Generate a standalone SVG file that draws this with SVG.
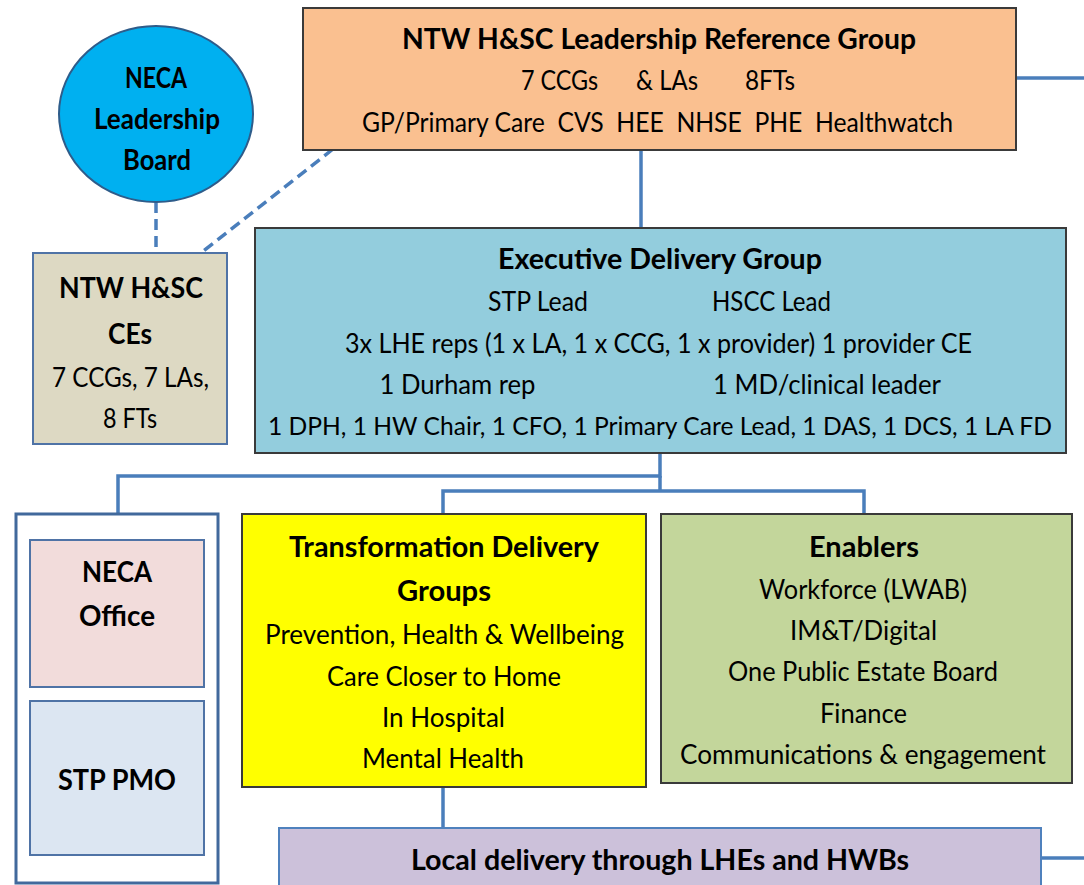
<svg xmlns="http://www.w3.org/2000/svg" width="1084" height="885" viewBox="0 0 1084 885">
<style>
text{font-family:Lato,"Liberation Sans",sans-serif;fill:#000;text-anchor:middle}
.b{font-weight:bold;font-size:29px}
.r{font-size:27px}
.s{font-size:25px}
.con{stroke:#4A7EBB;stroke-width:3.5;fill:none}
.dash{stroke:#4A7EBB;stroke-width:3.5;fill:none;stroke-dasharray:11 6}
.dk{stroke:#3A3A3A;stroke-width:2}
.bl{stroke:#4F73A6;stroke-width:2}
</style>
<rect width="1084" height="885" fill="#fff"/>
<g id="connectors">
<line class="con" x1="1016" y1="78" x2="1084" y2="78"/>
<line class="con" x1="641" y1="150" x2="641" y2="228"/>
<line class="dash" x1="156" y1="202" x2="156" y2="253"/>
<line class="dash" x1="333" y1="149" x2="201" y2="253"/>
<polyline class="con" points="660,453 660,476 118,476 118,514"/>
<polyline class="con" points="660,476 660,491"/>
<polyline class="con" points="443,514 443,491 864,491 864,514"/>
<line class="con" x1="443" y1="787" x2="443" y2="828"/>
<line class="con" x1="1041" y1="858" x2="1084" y2="858"/>
</g>
<g id="ref-group">
<rect class="dk" x="303" y="8" width="713" height="142" fill="#FAC090"/>
<text class="b" x="659" y="49" textLength="514" lengthAdjust="spacingAndGlyphs">NTW H&amp;SC Leadership Reference Group</text>
<text class="r" x="559.5" y="90" textLength="77" lengthAdjust="spacingAndGlyphs">7 CCGs</text>
<text class="r" x="667" y="90" textLength="62" lengthAdjust="spacingAndGlyphs">&amp; LAs</text>
<text class="r" x="770" y="90" textLength="50" lengthAdjust="spacingAndGlyphs">8FTs</text>
<text class="r" x="657.5" y="132" textLength="591" lengthAdjust="spacingAndGlyphs" xml:space="preserve">GP/Primary Care  CVS  HEE  NHSE  PHE  Healthwatch</text>
</g>
<g id="neca-board">
<ellipse cx="156" cy="114" rx="97" ry="88" fill="#00B0F0" stroke="#2E5C8A" stroke-width="2"/>
<text class="b" x="156" y="88" textLength="62" lengthAdjust="spacingAndGlyphs">NECA</text>
<text class="b" x="157" y="129" textLength="126" lengthAdjust="spacingAndGlyphs">Leadership</text>
<text class="b" x="157" y="170" textLength="68" lengthAdjust="spacingAndGlyphs">Board</text>
</g>
<g id="ce-box">
<rect class="bl" x="33" y="253" width="194" height="191" fill="#DDD9C3"/>
<text class="b" x="131" y="298" textLength="144" lengthAdjust="spacingAndGlyphs">NTW H&amp;SC</text>
<text class="b" x="130" y="344" textLength="44" lengthAdjust="spacingAndGlyphs">CEs</text>
<text class="r" x="130.5" y="387" textLength="157" lengthAdjust="spacingAndGlyphs">7 CCGs, 7 LAs,</text>
<text class="r" x="130" y="428" textLength="54" lengthAdjust="spacingAndGlyphs">8 FTs</text>
</g>
<g id="exec-group">
<rect class="dk" x="255" y="228" width="811" height="225" fill="#93CDDD"/>
<text class="b" x="660" y="269" textLength="324" lengthAdjust="spacingAndGlyphs">Executive Delivery Group</text>
<text class="r" x="538" y="311" textLength="100" lengthAdjust="spacingAndGlyphs">STP Lead</text>
<text class="r" x="771.5" y="311" textLength="119" lengthAdjust="spacingAndGlyphs">HSCC Lead</text>
<text class="r" x="658.5" y="353" textLength="627" lengthAdjust="spacingAndGlyphs">3x LHE reps (1 x LA, 1 x CCG, 1 x provider) 1 provider CE</text>
<text class="r" x="457.5" y="394" textLength="156" lengthAdjust="spacingAndGlyphs">1 Durham rep</text>
<text class="r" x="827" y="394" textLength="228" lengthAdjust="spacingAndGlyphs">1 MD/clinical leader</text>
<text class="s" x="660" y="435" textLength="784" lengthAdjust="spacingAndGlyphs">1 DPH, 1 HW Chair, 1 CFO, 1 Primary Care Lead, 1 DAS, 1 DCS, 1 LA FD</text>
</g>
<g id="support-container">
<rect x="16" y="514" width="202" height="369" fill="#fff" stroke="#41699C" stroke-width="3"/>
</g>
<g id="neca-office">
<rect class="bl" x="30" y="540" width="174" height="147" fill="#F2DCDB"/>
<text class="b" x="117" y="582" textLength="70" lengthAdjust="spacingAndGlyphs">NECA</text>
<text class="b" x="117" y="626" textLength="76" lengthAdjust="spacingAndGlyphs">Office</text>
</g>
<g id="stp-pmo">
<rect class="bl" x="30" y="701" width="174" height="154" fill="#DCE6F2"/>
<text class="b" x="117" y="790" textLength="118" lengthAdjust="spacingAndGlyphs">STP PMO</text>
</g>
<g id="transformation">
<rect class="dk" x="242" y="514" width="404" height="273" fill="#FFFF00"/>
<text class="b" x="444" y="557" textLength="310" lengthAdjust="spacingAndGlyphs">Transformation Delivery</text>
<text class="b" x="444" y="601" textLength="94" lengthAdjust="spacingAndGlyphs">Groups</text>
<text class="r" x="444.5" y="644" textLength="359" lengthAdjust="spacingAndGlyphs">Prevention, Health &amp; Wellbeing</text>
<text class="r" x="444" y="686" textLength="234" lengthAdjust="spacingAndGlyphs">Care Closer to Home</text>
<text class="r" x="443.5" y="727" textLength="123" lengthAdjust="spacingAndGlyphs">In Hospital</text>
<text class="r" x="443" y="768" textLength="162" lengthAdjust="spacingAndGlyphs">Mental Health</text>
</g>
<g id="enablers">
<rect class="dk" x="661" y="514" width="411" height="269" fill="#C3D69B"/>
<text class="b" x="864" y="557" textLength="110" lengthAdjust="spacingAndGlyphs">Enablers</text>
<text class="r" x="863" y="599" textLength="208" lengthAdjust="spacingAndGlyphs">Workforce (LWAB)</text>
<text class="r" x="863.5" y="640" textLength="147" lengthAdjust="spacingAndGlyphs">IM&amp;T/Digital</text>
<text class="r" x="863" y="681" textLength="270" lengthAdjust="spacingAndGlyphs">One Public Estate Board</text>
<text class="r" x="863.5" y="723" textLength="87" lengthAdjust="spacingAndGlyphs">Finance</text>
<text class="r" x="863" y="764" textLength="366" lengthAdjust="spacingAndGlyphs">Communications &amp; engagement</text>
</g>
<g id="local-delivery">
<rect x="279" y="828" width="762" height="70" fill="#CCC1DA" stroke="#4F81BD" stroke-width="2"/>
<text class="b" x="660" y="870" textLength="498" lengthAdjust="spacingAndGlyphs">Local delivery through LHEs and HWBs</text>
</g>
</svg>
